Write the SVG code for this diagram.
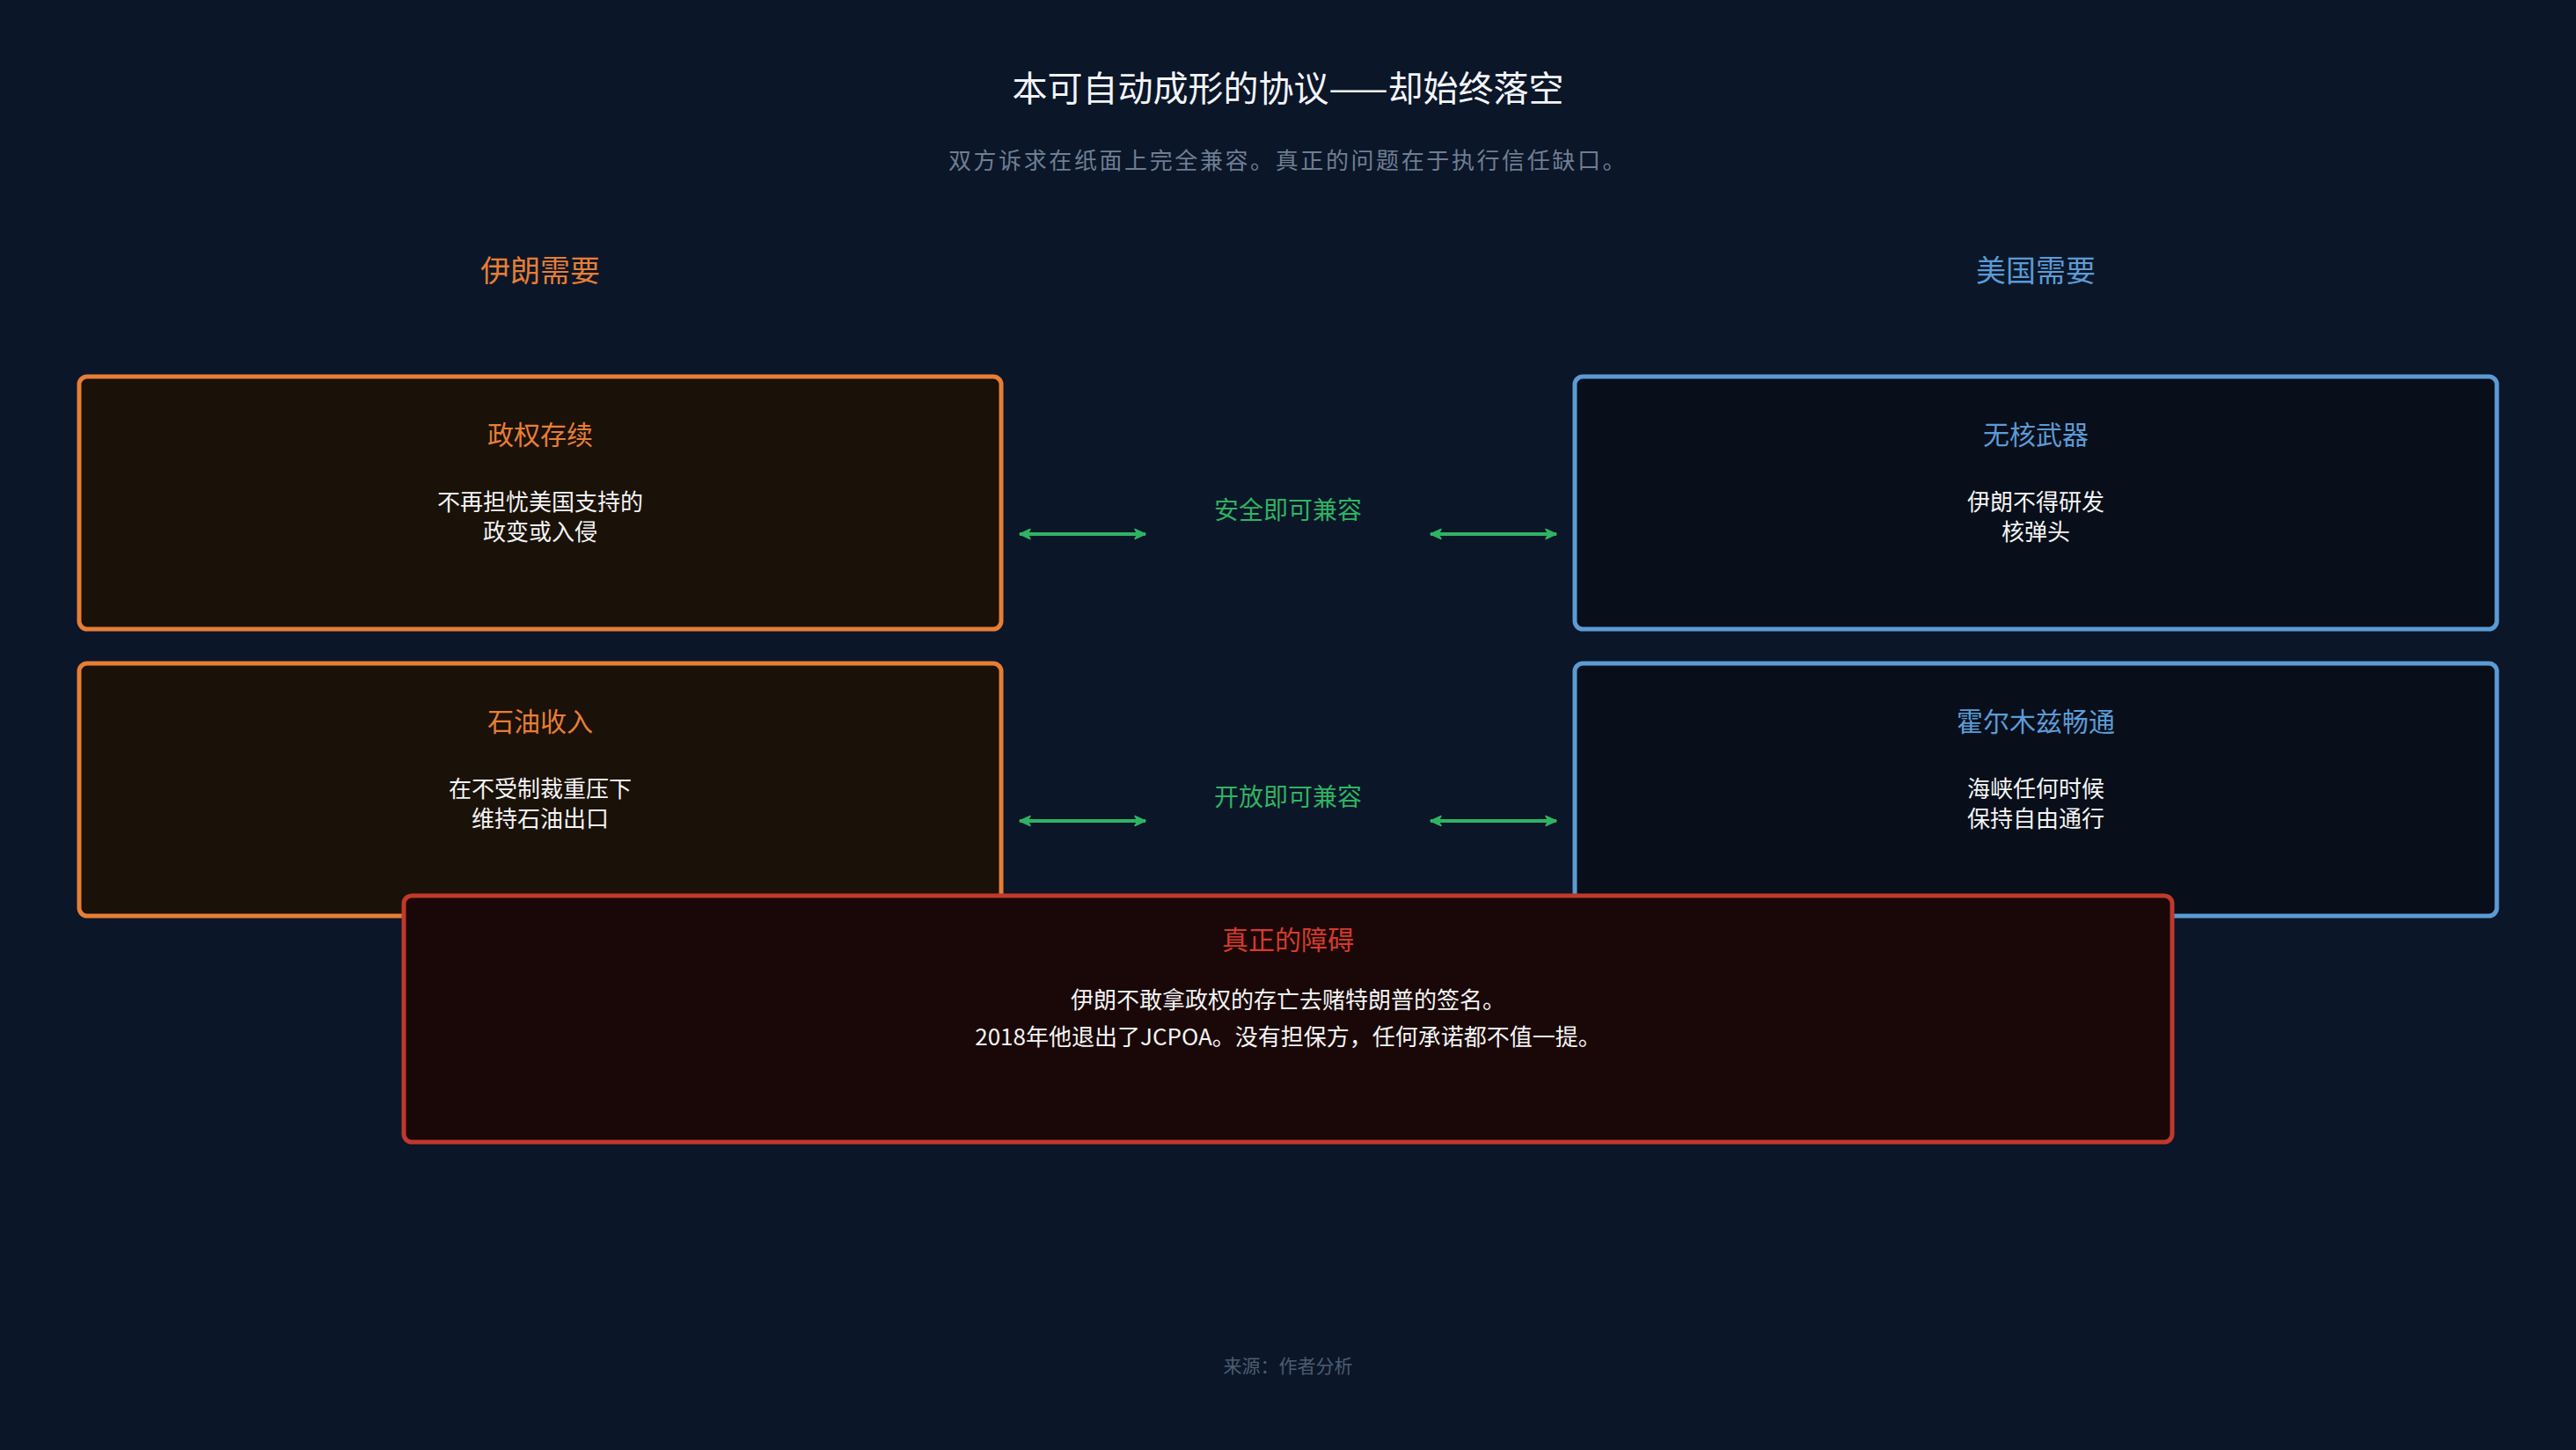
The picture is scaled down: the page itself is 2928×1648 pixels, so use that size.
<svg xmlns="http://www.w3.org/2000/svg" width="2928" height="1648" viewBox="0 0 2928 1648">
<defs>
<style>
text{font-family:"Noto Sans CJK SC","Noto Sans",sans-serif;text-anchor:middle}
.title{font-size:40px;fill:#f2f4f8}
.sub{font-size:26px;fill:#6f7e94;letter-spacing:2.6px}
.colIran{font-size:34px;fill:#e67e35}
.colUS{font-size:34px;fill:#5b9bd5}
.iranBox{fill:#1a1109;stroke:#e67e35;stroke-width:5}
.usBox{fill:#080e1a;stroke:#5b9bd5;stroke-width:5}
.redBox{fill:#1a0808;stroke:#c0392b;stroke-width:5}
.hIran{font-size:30px;fill:#e67e35}
.hUS{font-size:30px;fill:#5b9bd5}
.hRed{font-size:30px;fill:#d63a2c}
.body{font-size:26px;fill:#f4f4f4}
.green{font-size:28px;fill:#2eb463}
.conn{stroke:#2eb463;stroke-width:4;fill:none;marker-start:url(#ah);marker-end:url(#ah)}
.foot{font-size:21px;fill:#4d5c72}
</style>
<marker id="ah" viewBox="0 0 14 14" refX="13" refY="7" markerWidth="14" markerHeight="14" markerUnits="userSpaceOnUse" orient="auto-start-reverse">
<path d="M1,1.5 L13,7 L1,12.5 L4,7 Z" fill="#2eb463" stroke="#2eb463" stroke-width="1.5" stroke-linejoin="round"/>
</marker>
</defs>
<rect x="0" y="0" width="2928" height="1648" fill="#0b1628"/>
<g id="header">
<text class="title" x="1464" y="115">本可自动成形的协议——却始终落空</text>
<text class="sub" x="1464" y="192">双方诉求在纸面上完全兼容。真正的问题在于执行信任缺口。</text>
<text class="colIran" x="614" y="320">伊朗需要</text>
<text class="colUS" x="2314" y="320">美国需要</text>
</g>
<g id="connectors">
<line class="conn" x1="1159" y1="607" x2="1302" y2="607"/>
<line class="conn" x1="1626" y1="607" x2="1769" y2="607"/>
<line class="conn" x1="1159" y1="933" x2="1302" y2="933"/>
<line class="conn" x1="1626" y1="933" x2="1769" y2="933"/>
<text class="green" x="1464" y="590">安全即可兼容</text>
<text class="green" x="1464" y="916">开放即可兼容</text>
</g>
<g id="iran-regime">
<rect class="iranBox" x="90" y="428" width="1048" height="287" rx="9"/>
<text class="hIran" x="614" y="505">政权存续</text>
<text class="body" x="614" y="580">不再担忧美国支持的</text>
<text class="body" x="614" y="614">政变或入侵</text>
</g>
<g id="iran-oil">
<rect class="iranBox" x="90" y="754" width="1048" height="287" rx="9"/>
<text class="hIran" x="614" y="831">石油收入</text>
<text class="body" x="614" y="906">在不受制裁重压下</text>
<text class="body" x="614" y="940">维持石油出口</text>
</g>
<g id="us-nuclear">
<rect class="usBox" x="1790" y="428" width="1048" height="287" rx="9"/>
<text class="hUS" x="2314" y="505">无核武器</text>
<text class="body" x="2314" y="580">伊朗不得研发</text>
<text class="body" x="2314" y="614">核弹头</text>
</g>
<g id="us-hormuz">
<rect class="usBox" x="1790" y="754" width="1048" height="287" rx="9"/>
<text class="hUS" x="2314" y="831">霍尔木兹畅通</text>
<text class="body" x="2314" y="906">海峡任何时候</text>
<text class="body" x="2314" y="940">保持自由通行</text>
</g>
<g id="real-obstacle">
<rect class="redBox" x="459" y="1018" width="2010" height="280" rx="9"/>
<text class="hRed" x="1464" y="1079">真正的障碍</text>
<text class="body" x="1464" y="1146">伊朗不敢拿政权的存亡去赌特朗普的签名。</text>
<text class="body" x="1464" y="1188">2018年他退出了JCPOA。没有担保方，任何承诺都不值一提。</text>
</g>
<g id="footer">
<text class="foot" x="1464" y="1560">来源：作者分析</text>
</g>
</svg>
